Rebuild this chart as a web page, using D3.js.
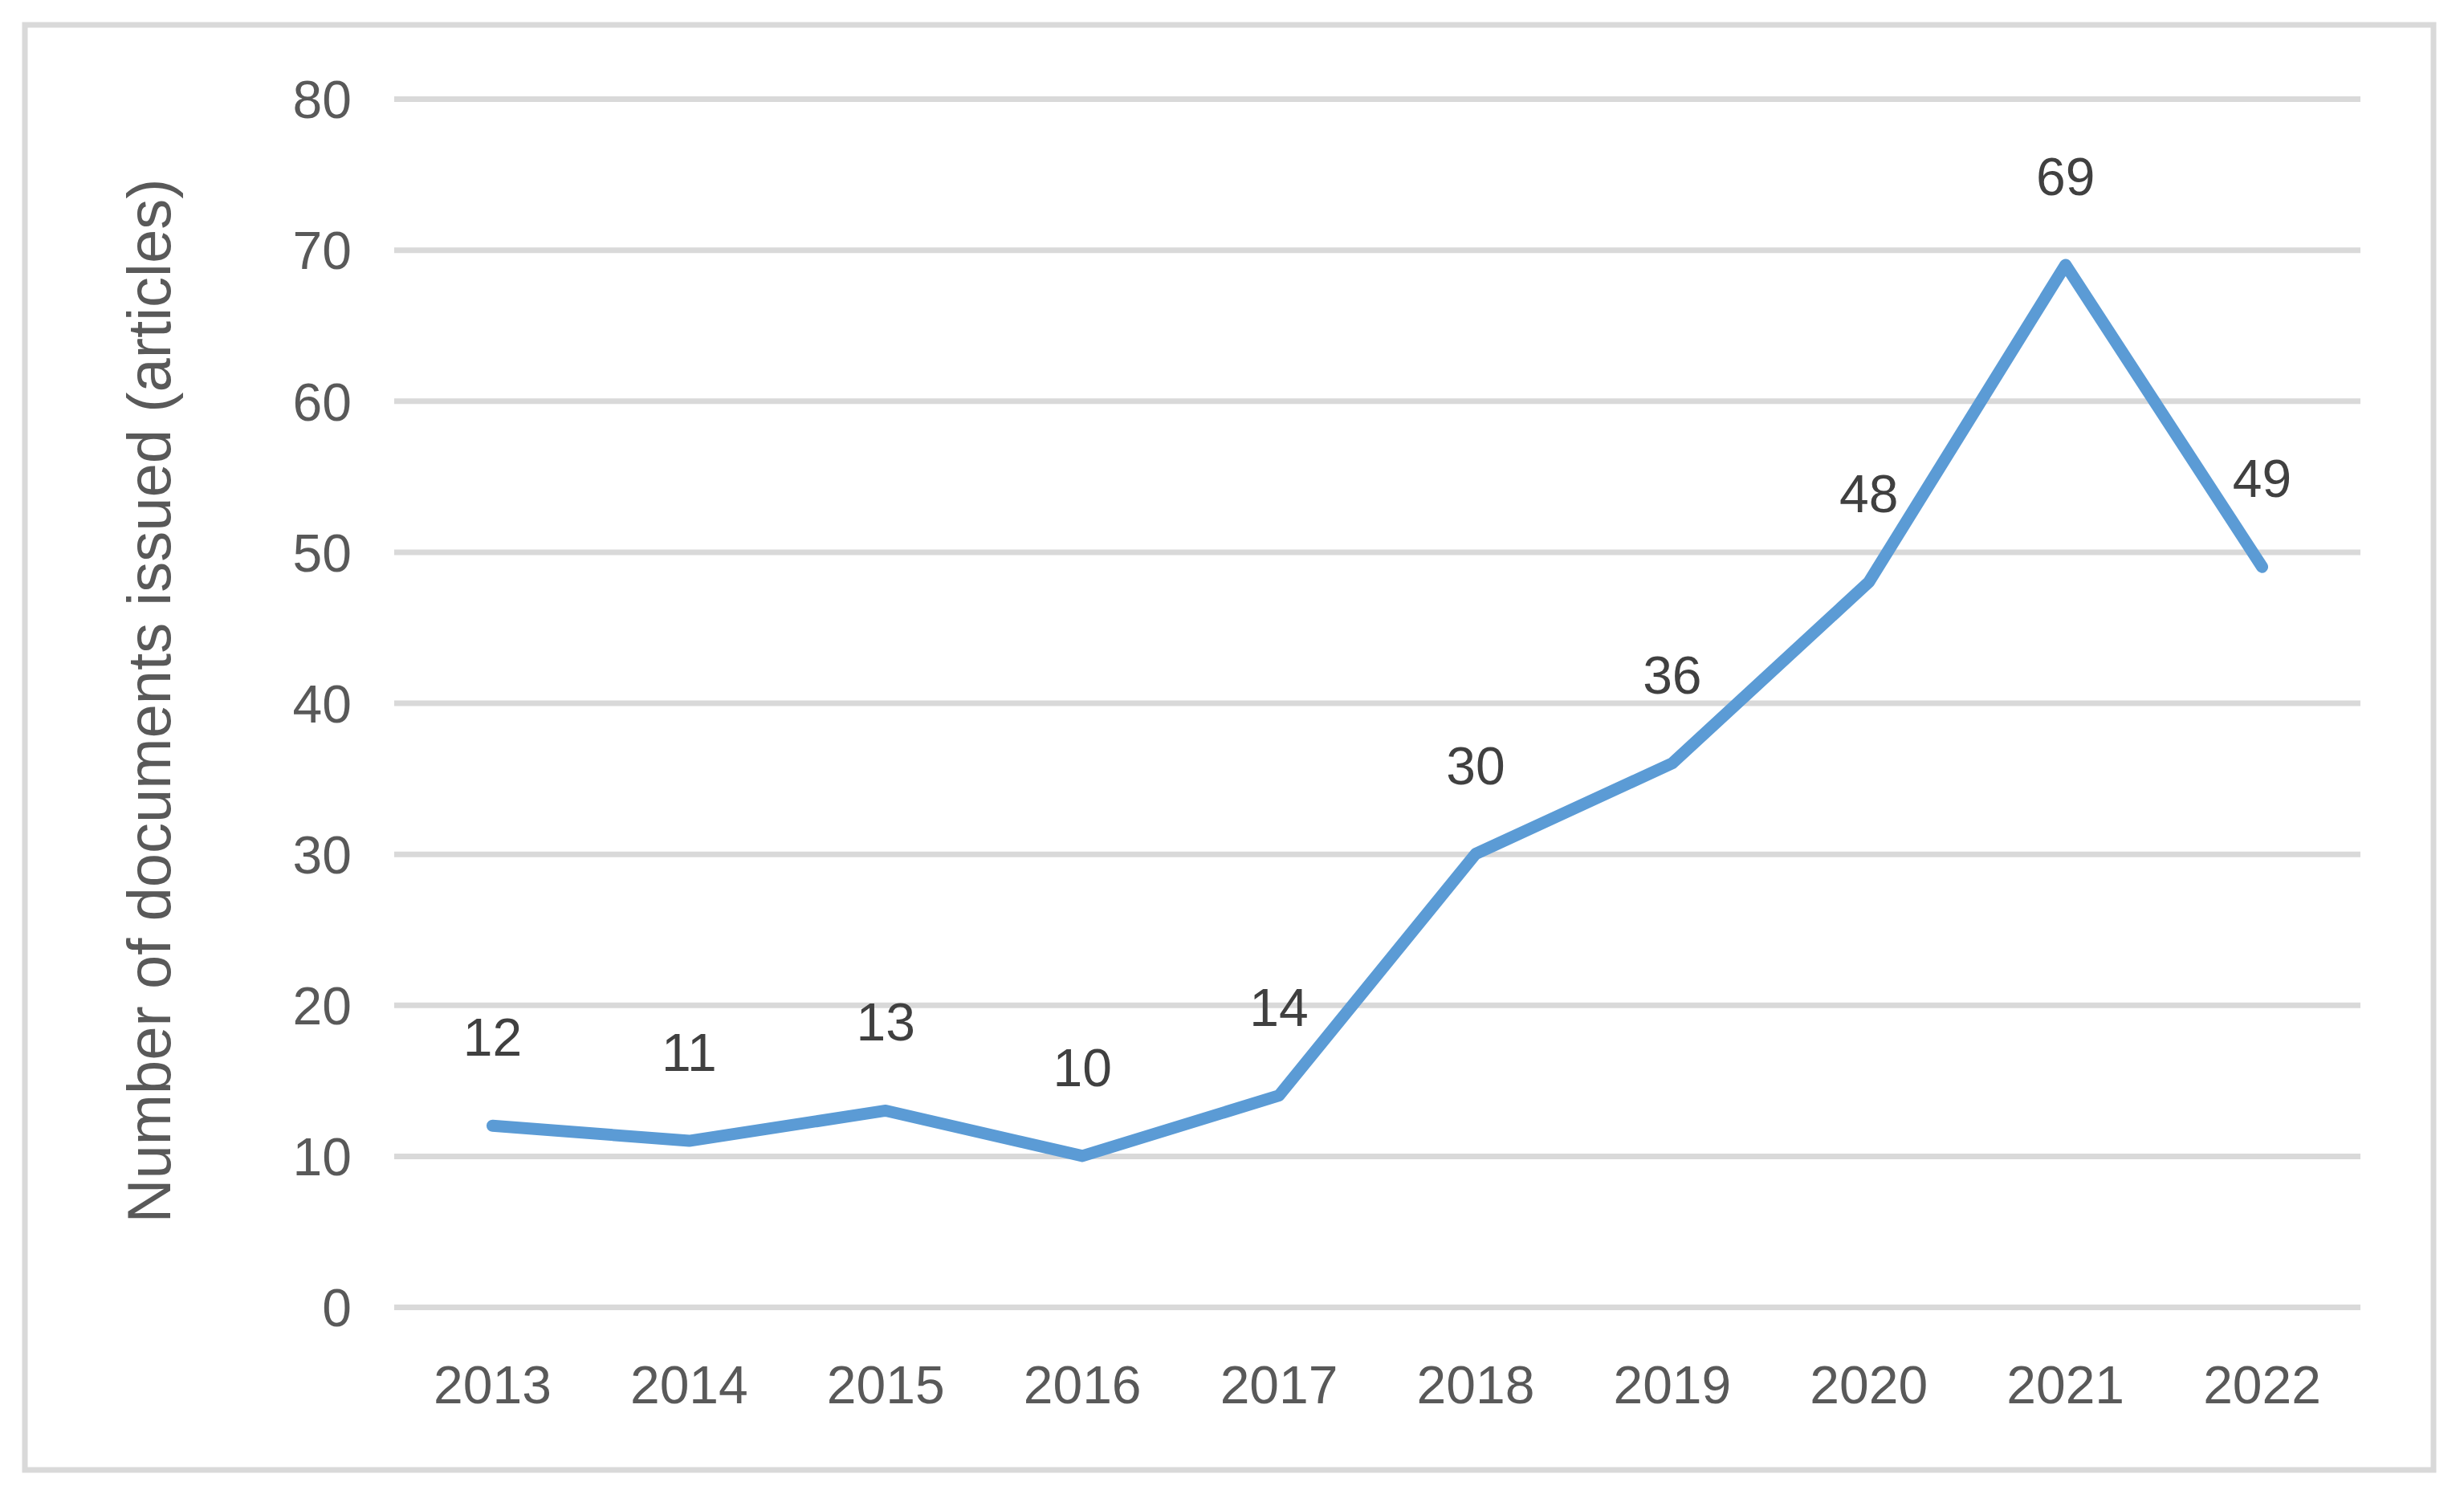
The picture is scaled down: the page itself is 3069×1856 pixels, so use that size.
<!DOCTYPE html>
<html>
<head>
<meta charset="utf-8">
<script src="https://cdn.jsdelivr.net/npm/d3@7"></script>
<style>
  html, body { margin: 0; padding: 0; background: #ffffff; }
  svg { display: block; }
</style>
</head>
<body>
<svg id="chart" width="3069" height="1856"></svg>
<script>
// ---- data ----
const years = ["2013", "2014", "2015", "2016", "2017", "2018", "2019", "2020", "2021", "2022"];
const documents = [12, 11, 13, 10, 14, 30, 36, 48, 69, 49];
const yTicks = [0, 10, 20, 30, 40, 50, 60, 70, 80];
const yTitle = "Number of documents issued (articles)";

// ---- layout ----
const W = 3069, H = 1856;
const plot = { left: 491, right: 2940, top: 123, bottom: 1628 };
const font = "'Liberation Sans', Arial, sans-serif";

const svg = d3.select("#chart");

// outer border
svg.append("rect")
  .attr("x", 31).attr("y", 31)
  .attr("width", 3000).attr("height", 1800)
  .attr("fill", "#ffffff")
  .attr("stroke", "#d9d9d9")
  .attr("stroke-width", 7);

const x = d3.scaleBand().domain(years).range([plot.left, plot.right]).padding(0);
const y = d3.scaleLinear().domain([0, 80]).range([plot.bottom, plot.top]);

// y axis with gridlines
const yAxis = svg.append("g")
  .attr("transform", `translate(${plot.left},0)`)
  .call(d3.axisLeft(y).tickValues(yTicks).tickSize(-(plot.right - plot.left)).tickPadding(53));
yAxis.select(".domain").remove();
yAxis.selectAll(".tick line")
  .attr("stroke", "#d9d9d9")
  .attr("stroke-width", 7);
yAxis.selectAll(".tick text")
  .attr("dy", "0.36em")
  .attr("fill", "#595959")
  .style("font-family", font)
  .style("font-size", "66px");

// x axis labels
const xAxis = svg.append("g")
  .attr("transform", `translate(0,${plot.bottom})`)
  .call(d3.axisBottom(x).tickSize(0).tickPadding(0));
xAxis.select(".domain").remove();
xAxis.selectAll(".tick text")
  .attr("dy", null)
  .attr("y", 120)
  .attr("fill", "#595959")
  .style("font-family", font)
  .style("font-size", "66px");

// y axis title
svg.append("text")
  .attr("transform", `translate(212,873) rotate(-90)`)
  .attr("text-anchor", "middle")
  .attr("fill", "#595959")
  .style("font-family", font)
  .style("font-size", "76px")
  .text(yTitle);

// line
const pts = years.map((yr, i) => ({ yr, v: documents[i] }));
const line = d3.line()
  .x(d => x(d.yr) + x.bandwidth() / 2)
  .y(d => y(d.v));

svg.append("path")
  .datum(pts)
  .attr("d", line)
  .attr("fill", "none")
  .attr("stroke", "#5b9bd5")
  .attr("stroke-width", 15)
  .attr("stroke-linejoin", "round")
  .attr("stroke-linecap", "round");

// data labels
svg.append("g").selectAll("text")
  .data(pts)
  .join("text")
  .attr("x", d => x(d.yr) + x.bandwidth() / 2)
  .attr("y", d => y(d.v) - 87)
  .attr("text-anchor", "middle")
  .attr("fill", "#404040")
  .style("font-family", font)
  .style("font-size", "66px")
  .text(d => d.v);
</script>
</body>
</html>
